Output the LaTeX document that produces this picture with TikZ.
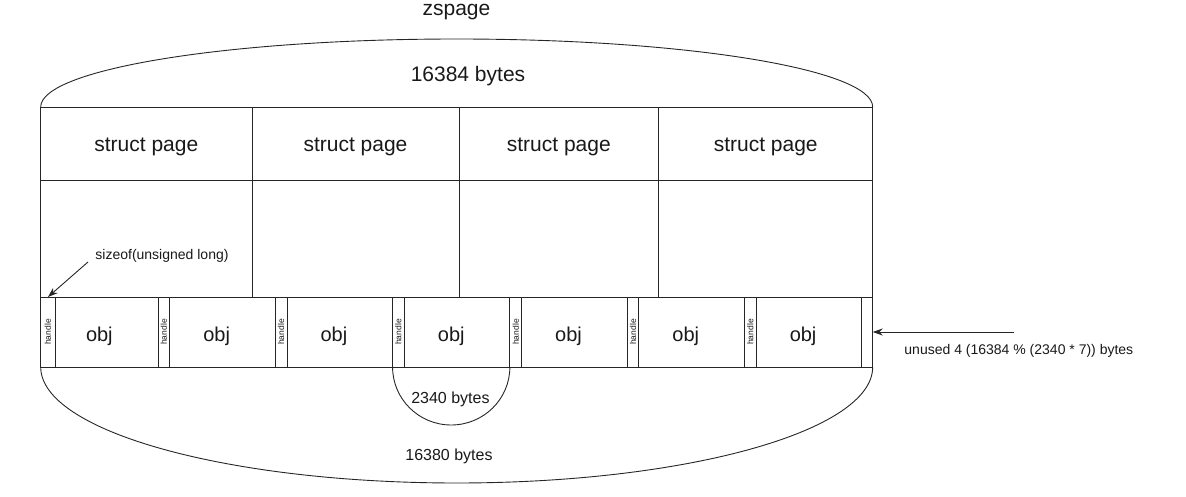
\documentclass[tikz,border=0pt]{standalone}
\usepackage{fontspec}
\setmainfont{Liberation Sans}
\usetikzlibrary{arrows.meta}
\begin{document}
\begin{tikzpicture}[x=1pt,y=-1pt,
  line width=0.9pt,
  outline/.style={draw=black!85},
  cell/.style={draw=black!85, inner sep=0pt, outer sep=0pt, anchor=north west},
  bigtext/.style={font=\fontsize{21}{25}\selectfont, inner sep=0pt, text=black!90},
  objtext/.style={font=\fontsize{20}{24}\selectfont, inner sep=0pt, text=black!90},
  midtext/.style={font=\fontsize{16}{19}\selectfont, inner sep=0pt, text=black!90},
  smalltext/.style={font=\fontsize{14}{17}\selectfont, inner sep=0pt, text=black!90},
  handletext/.style={font=\fontsize{8.5}{10}\selectfont, inner sep=0pt, text=black!90, rotate=90},
  arrowline/.style={draw=black!85, line width=0.9pt, -{Stealth[length=10pt,width=7pt]}}
]
\useasboundingbox (0,0) rectangle (1186,497);

% title
\node[bigtext, anchor=base] (title) at (456.5,16) {zspage};
\node[bigtext, anchor=base] (total) at (468,81.7) {16384 bytes};

% struct page columns
\foreach \a/\b [count=\k] in {40.7/252, 252/459, 459/658.7, 658.7/872.7} {
  \node[cell, minimum width={(\b-\a)*1pt}, minimum height=73pt] (sp\k) at (\a,107) {};
  \node[cell, minimum width={(\b-\a)*1pt}, minimum height=117pt] (pg\k) at (\a,180) {};
  \node[bigtext, anchor=base] (spl\k) at ({(\a+\b)/2},152) {struct page};
}

% handle / obj row
\foreach \i in {0,...,6} {
  \pgfmathsetmacro{\xs}{40.7+117.29*\i}
  \pgfmathsetmacro{\hw}{\i==0 ? 14.5 : 11.7}
  \pgfmathsetmacro{\ow}{117.29-\hw}
  \node[cell, minimum width=\hw pt, minimum height=70pt] (h\i) at (\xs,297) {};
  \node[handletext] (ht\i) at (h\i.center) {handle};
  \node[cell, minimum width=\ow pt, minimum height=70pt] (o\i) at (\xs+\hw,297) {};
  \node[objtext, anchor=base] (ol\i) at (\xs+58.65,341.7) {obj};
}
\node[cell, minimum width=11pt, minimum height=70pt] (u) at (861.7,297) {};

% arcs
\draw[outline] (sp1.north west) arc[start angle=180, end angle=360, x radius=416, y radius=68];
\draw[outline] (h0.south west) arc[start angle=180, end angle=0, x radius=416, y radius=116];
\draw[outline] (h3.south west) arc[start angle=180, end angle=0, x radius=58.65, y radius=58];

\node[midtext, anchor=base] (small) at (450.4,403.3) {2340 bytes};
\node[midtext, anchor=base] (used) at (449,460.7) {16380 bytes};

% annotations
\node[smalltext, anchor=west] (sz) at (95,256) {sizeof(unsigned long)};
\coordinate (szs) at (88,262);
\draw[arrowline] (szs) -- (h0.north);

\node[smalltext, anchor=west] (un) at (904,351) {unused 4 (16384 \% (2340 * 7)) bytes};
\coordinate (uns) at (1014,332);
\draw[arrowline] (uns) -- (u.east);
\end{tikzpicture}
\end{document}
